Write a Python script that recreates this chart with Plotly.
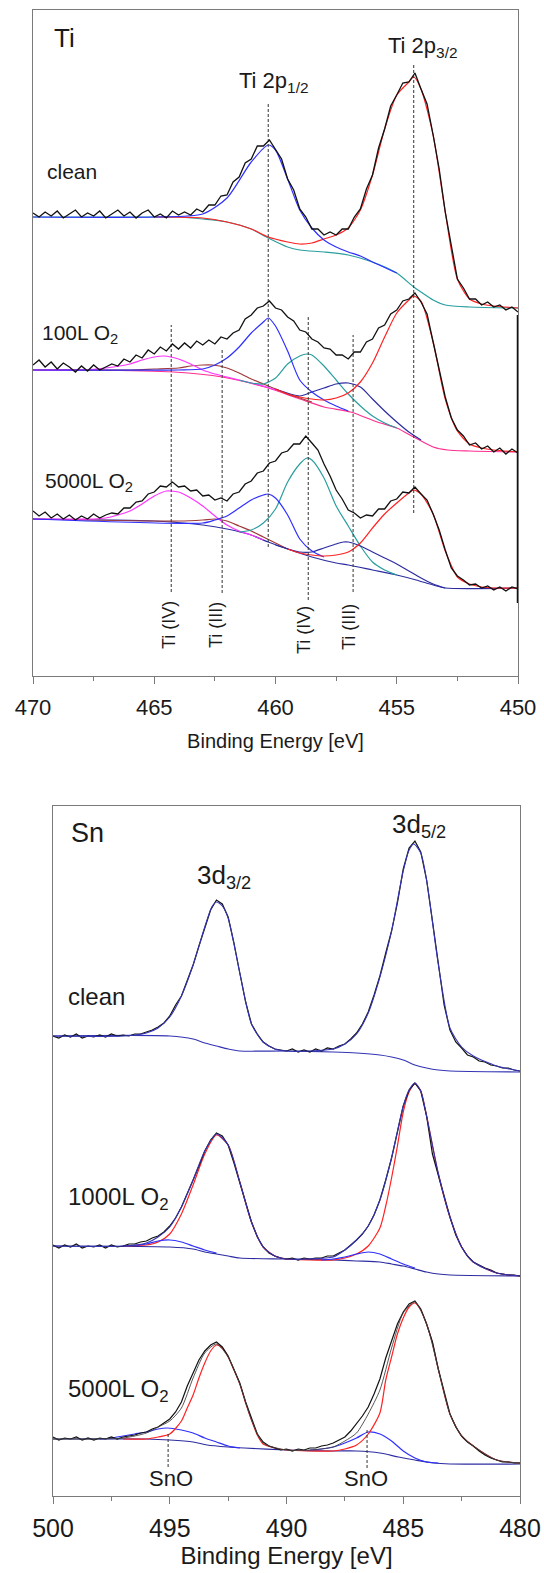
import plotly.graph_objects as go

FONT = "Liberation Sans, Arial, sans-serif"
TXT = "#1a1a1a"
AXC = "#7a7a7a"

# ---------------- Ti 2p panel (measured spectra, arbitrary intensity units) ----------------
E_TI = [round(470 - 0.25 * i, 2) for i in range(81)]

TI_CLEAN = [463, 459, 464, 460, 465, 458, 462, 466, 459, 463,
            460, 465, 458, 462, 466, 460, 464, 458, 463, 466,
            459, 462, 458, 465, 461, 464, 461, 467, 464, 471,
            471, 480, 481, 494, 499, 513, 517, 530, 530, 536,
            526, 517, 497, 486, 467, 459, 447, 447, 441, 444,
            441, 447, 447, 459, 467, 487, 501, 528, 547, 570,
            581, 593, 594, 603, 587, 572, 541, 507, 464, 430,
            397, 388, 377, 377, 371, 374, 369, 371, 366, 369, 364]

TI_100L = [311, 316, 309, 314, 307, 313, 309, 304, 310, 305,
           311, 306, 309, 312, 310, 317, 314, 321, 318, 326,
           322, 329, 325, 332, 327, 333, 328, 335, 331, 336,
           332, 339, 337, 343, 346, 357, 361, 368, 370, 375,
           368, 366, 359, 355, 346, 344, 337, 334, 328, 327,
           321, 321, 317, 324, 324, 334, 337, 348, 351, 362,
           366, 375, 377, 383, 374, 362, 334, 306, 279, 258,
           246, 240, 231, 233, 227, 230, 224, 228, 222, 227, 223]

TI_5000L = [165, 160, 164, 158, 162, 157, 161, 156, 160, 157,
            162, 158, 161, 163, 162, 168, 168, 174, 175, 182,
            184, 190, 189, 194, 189, 190, 185, 186, 180, 181,
            176, 178, 175, 182, 184, 192, 195, 203, 205, 213,
            215, 223, 225, 232, 232, 240, 233, 226, 212, 200,
            186, 177, 166, 163, 158, 161, 160, 167, 167, 175,
            177, 184, 183, 189, 182, 176, 162, 146, 126, 108,
            100, 96, 91, 92, 88, 90, 86, 89, 85, 89, 87]

# fitted components, clean
TI_C_BG_E = [470, 465, 464, 463, 462, 461, 460.3, 459.5, 459, 458, 457, 456, 455, 454.3, 454, 453.5, 453, 452, 450]
TI_C_BG = [459, 459, 459, 457, 454, 447, 438, 429, 426, 424, 421, 414, 403, 389, 384, 376, 371, 369, 368]
TI_C_RED_E = [465, 463, 462, 461, 460.3, 459.5, 459, 458.5, 458, 457.5, 457, 456.5, 456, 455.5, 455, 454.5, 454.3, 454, 453.5, 453, 452.5, 452, 451.5, 451, 450]
TI_C_RED = [459, 458, 454, 447, 439, 434, 432, 433, 437, 441, 448, 466, 501, 547, 581, 594, 599, 587, 541, 464, 397, 377, 372, 370, 368]
TI_C_BLUE_E = [470, 465, 463, 462, 461, 460.3, 460, 459.5, 459, 458.5, 458, 457.5, 457, 456.5, 456, 455]
TI_C_BLUE = [459, 459, 462, 478, 514, 531, 526, 497, 466, 448, 436, 429, 424, 420, 414, 403]

# fitted components, 100 L O2
TI_1_BG_E = [470, 467.6, 464.2, 462.2, 460.3, 459.1, 458, 456.9, 455.8, 455, 454.3, 453.5, 452.9, 452, 450]
TI_1_BG = [306, 306, 304, 299, 288, 278, 269, 264, 254, 248, 239, 229, 226, 225, 224]
TI_1_MAG_E = [470, 468, 467, 466, 465.5, 465, 464.6, 464, 463.5, 463, 462.5, 462, 461.5, 461, 460.5, 460]
TI_1_MAG = [306, 306, 308, 312, 316, 319, 320, 317, 312, 306, 302, 299, 296, 293, 290, 286]
TI_1_BRN_E = [470, 466, 465, 464, 463.5, 463, 462.6, 462, 461.5, 461, 460.5, 460, 459.5, 459, 458.5]
TI_1_BRN = [306, 306, 307, 308, 310, 311, 311, 308, 303, 297, 292, 287, 282, 278, 274]
TI_1_BLUE_E = [470, 464, 463, 462.5, 462, 461.5, 461, 460.5, 460.3, 460, 459.5, 459, 458.5, 458, 457.5, 457]
TI_1_BLUE = [306, 306, 307, 311, 318, 329, 343, 354, 358, 350, 325, 296, 284, 276, 270, 265]
TI_1_TEAL_E = [461.5, 461, 460.5, 460, 459.5, 459, 458.7, 458.5, 458, 457.5, 457, 456.5, 456, 455.5, 455]
TI_1_TEAL = [296, 293, 292, 298, 312, 320, 322, 321, 310, 296, 282, 270, 260, 253, 248]
TI_1_NAVY_E = [460, 459, 458.5, 458, 457.5, 457, 456.5, 456, 455.5, 455, 454.5, 454]
TI_1_NAVY = [287, 280, 284, 288, 292, 293, 289, 277, 265, 254, 244, 236]
TI_1_RED_E = [460, 459.5, 459, 458.5, 458, 457.5, 457, 456.5, 456, 455.5, 455, 454.5, 454.3, 454, 453.5, 453, 452.5, 452, 451.5, 451, 450]
TI_1_RED = [287, 282, 279, 277, 276, 278, 283, 294, 313, 339, 363, 376, 380, 375, 334, 277, 245, 232, 228, 226, 224]

# fitted components, 5000 L O2
TI_5_BG_E = [470, 467, 465, 463, 462, 461, 460.3, 459.5, 458.5, 457.5, 457, 456, 455, 454.2, 453.5, 453, 450]
TI_5_BG = [157, 156, 155, 151, 147, 141, 134, 127, 119, 113, 111, 106, 101, 96, 91, 88, 88]
TI_5_MAG_E = [470, 467.5, 467, 466.5, 466, 465.5, 465, 464.5, 464.3, 464, 463.5, 463, 462.5, 462, 461.5, 461, 460.5]
TI_5_MAG = [157, 157, 158, 161, 165, 172, 180, 185, 185, 184, 178, 170, 160, 151, 145, 141, 136]
TI_5_BRN_E = [470, 464, 463, 462.5, 462, 461.5, 461, 460.5, 460, 459.5]
TI_5_BRN = [157, 155, 156, 157, 155, 150, 145, 139, 133, 127]
TI_5_BLUE_E = [470, 463, 462.5, 462, 461.5, 461, 460.5, 460.3, 460, 459.5, 459, 458.5, 458]
TI_5_BLUE = [157, 153, 156, 160, 168, 176, 181, 182, 178, 161, 137, 125, 119]
TI_5_TEAL_E = [461.5, 461, 460.5, 460, 459.5, 459, 458.7, 458.5, 458, 457.5, 457, 456.5, 456, 455.5, 455]
TI_5_TEAL = [144, 146, 153, 167, 194, 212, 218, 216, 198, 170, 150, 130, 114, 106, 101]
TI_5_NAVY_E = [460, 459, 458.5, 458, 457.5, 457.2, 457, 456.5, 456, 455.5, 455, 454.5, 454, 453.5, 453]
TI_5_NAVY = [131, 124, 124, 128, 132, 134, 134, 130, 124, 118, 112, 105, 98, 92, 88]
TI_5_RED_E = [459.5, 459, 458.5, 458, 457.5, 457, 456.5, 456, 455.5, 455, 454.5, 454.3, 454, 453.5, 453, 452.5, 452, 451.5, 451, 450]
TI_5_RED = [127, 123, 121, 120, 121, 124, 133, 148, 162, 173, 183, 186, 182, 162, 125, 99, 92, 89, 88, 88]

# peak-position guide lines (energy, lower and upper intensity)
TI_MARK_E = [464.3, 462.2, 460.3, 458.65, 456.8, 454.3]
TI_MARK_LO = [84, 83, 129, 76, 84, 163]
TI_MARK_HI = [351, 326, 573, 361, 341, 611]

# ---------------- Sn 3d panel ----------------
E_SN = [round(500 - 0.25 * i, 2) for i in range(81)]

SN_CLEAN = [460, 458, 461, 459, 462, 458, 460, 459, 461, 459,
            462, 460, 461, 460, 462, 462, 464, 466, 469, 473,
            480, 491, 500, 515, 531, 550, 569, 586, 596, 592,
            579, 553, 523, 494, 472, 462, 454, 450, 447, 446,
            445, 447, 444, 446, 444, 447, 445, 448, 447, 450,
            452, 457, 463, 472, 484, 501, 520, 543, 565, 593,
            627, 648, 655, 644, 616, 575, 531, 491, 466, 454,
            448, 441, 439, 435, 434, 431, 430, 428, 428, 426, 425]

SN_1000L = [251, 248, 251, 249, 252, 248, 250, 249, 251, 248,
            251, 249, 250, 252, 252, 254, 255, 258, 260, 264,
            270, 278, 289, 302, 316, 330, 345, 356, 363, 360,
            351, 333, 314, 293, 274, 259, 249, 243, 240, 238,
            237, 238, 236, 238, 237, 238, 238, 240, 240, 243,
            246, 251, 256, 262, 270, 281, 296, 316, 338, 364,
            390, 406, 413, 405, 380, 342, 322, 300, 279, 261,
            249, 240, 234, 231, 228, 226, 223, 222, 221, 221, 220]

SN_5000L = [59, 56, 58, 57, 59, 56, 58, 56, 58, 57,
            59, 57, 59, 60, 61, 63, 64, 67, 69, 73,
            77, 84, 94, 110, 123, 136, 145, 151, 154, 149,
            140, 127, 113, 94, 77, 62, 54, 50, 48, 46,
            47, 45, 47, 46, 48, 48, 50, 51, 53, 56,
            59, 65, 72, 80, 89, 102, 117, 138, 155, 172,
            184, 192, 195, 187, 172, 154, 127, 104, 82, 69,
            60, 54, 50, 45, 41, 38, 36, 34, 34, 33, 33]

SN_C_FIT_E = [500, 497, 496, 495.5, 495, 494.5, 494, 493.5, 493.2, 493, 492.75, 492.5, 492, 491.5, 491, 490.5, 490, 489, 488, 487.5, 487, 486.5, 486, 485.5, 485, 484.75, 484.55, 484.25, 484, 483.5, 483, 482.5, 482, 481, 480]
SN_C_FIT = [460, 460, 463, 468, 479, 500, 531, 569, 589, 594, 590, 578, 523, 472, 454, 447, 445, 445, 447, 452, 462, 483, 519, 565, 625, 646, 652, 643, 616, 532, 468, 449, 440, 430, 425]
SN_C_BG_E = [500, 495, 494, 493.5, 493, 492.5, 492, 490, 488, 487, 486, 485.5, 485, 484.5, 484, 483.5, 483, 480]
SN_C_BG = [460, 460, 457, 453, 450, 447, 445, 445, 444, 443, 441, 439, 436, 431, 428, 426, 425, 424]

SN_1_BG_E = [500, 495, 494, 493.5, 493, 492.5, 492, 490, 488, 487, 486, 485.5, 485, 484.5, 484, 483.5, 483, 480]
SN_1_BG = [250, 249, 247, 244, 242, 240, 238, 237, 236, 235, 234, 232, 230, 227, 224, 222, 221, 220]
SN_1_OXL_E = [497, 496, 495.5, 495, 494.5, 494, 493.5, 493]
SN_1_OXL = [250, 252, 255, 256, 254, 250, 246, 243]
SN_1_OXR_E = [488.5, 488, 487.5, 487, 486.5, 486, 485.5, 485, 484.5]
SN_1_OXR = [236, 237, 239, 242, 244, 242, 237, 232, 228]
SN_1_RED_E = [497, 496, 495.5, 495, 494.5, 494, 493.5, 493, 492.5, 492, 491.5, 491, 490.5, 490, 489, 488, 487.5, 487, 486.5, 486, 485.75, 485.5, 485.25, 485, 484.75, 484.5, 484.25, 484, 483.5, 483, 482.5, 482, 481, 480]
SN_1_RED = [250, 251, 254, 262, 282, 311, 342, 361, 351, 314, 274, 249, 240, 237, 236, 236, 238, 242, 250, 268, 290, 318, 350, 384, 404, 412, 405, 380, 322, 279, 249, 234, 223, 220]
SN_1_FIT_E = [500, 497, 496, 495.5, 495, 494.5, 494, 493.5, 493, 492.5, 492, 491.5, 491, 490.5, 490, 489, 488, 487.5, 487, 486.5, 486, 485.5, 485, 484.75, 484.5, 484.25, 484, 483.5, 483, 482.5, 482, 481, 480]
SN_1_FIT = [250, 250, 253, 259, 269, 289, 316, 345, 362, 351, 314, 274, 249, 240, 237, 237, 239, 246, 256, 270, 296, 338, 390, 406, 413, 405, 380, 323, 279, 249, 234, 223, 220]

SN_5_BG_E = [500, 496, 495, 494, 493.4, 492.5, 491.8, 490, 488, 487, 486, 485.2, 484.5, 483.7, 483, 480]
SN_5_BG = [57, 57, 56, 54, 51, 49, 48, 46, 45, 45, 43, 39, 36, 33, 32, 32]
SN_5_OXL_E = [498, 497.5, 497, 496.5, 496, 495.5, 495.1, 494.5, 494, 493.5, 493, 492.5, 492]
SN_5_OXL = [57, 58, 60, 62, 64, 67, 68, 66, 63, 58, 54, 50, 48]
SN_5_OXR_E = [489, 488.5, 488, 487.5, 487, 486.5, 486, 485.5, 485, 484.5, 484, 483.5]
SN_5_OXR = [46, 47, 49, 53, 58, 64, 62, 55, 45, 38, 34, 33]
SN_5_RED_E = [497, 496, 495.5, 495, 494.5, 494.25, 494, 493.75, 493.5, 493.25, 493, 492.75, 492.5, 492.25, 492, 491.75, 491.5, 491.25, 491, 490.5, 490, 489, 488, 487.5, 487, 486.5, 486, 485.75, 485.5, 485.25, 485, 484.75, 484.5, 484.25, 484, 483.75, 483.5, 483, 482.5, 482, 481, 480]
SN_5_RED = [57, 57, 59, 62, 75, 88, 101, 118, 133, 145, 151, 148, 139, 126, 112, 93, 76, 61, 52, 48, 46, 45, 45, 47, 51, 62, 83, 116, 139, 162, 178, 189, 193, 186, 172, 153, 127, 82, 60, 50, 36, 33]
SN_5_FIT_E = [500, 497, 496, 495.5, 495, 494.5, 494, 493.5, 493, 492.5, 492, 491.5, 491, 490, 489, 488, 487.5, 487, 486.5, 486, 485.5, 485, 484.5, 484, 483.5, 483, 482.5, 482, 481, 480]
SN_5_FIT = [57, 58, 63, 69, 75, 88, 118, 143, 152, 139, 112, 76, 53, 46, 46, 49, 55, 63, 82, 106, 148, 183, 194, 172, 127, 82, 60, 50, 36, 33]

SN_MARK_E = [495.07, 486.55]
SN_MARK_LO = [29, 28]
SN_MARK_HI = [63, 66]

# ---------------- colours ----------------
BLACK = "#111111"
TEAL = "#2a9e9e"
RED = "#ff2222"
BLUE = "#2f2fff"
MAGENTA = "#ff33ff"
BROWN = "#a03a3a"
NAVY = "#2c2ca0"
PINK = "#ff2f8f"
SNBLUE = "#3434b4"

fig = go.Figure()


def add(x, y, color, width=1.2, xa="x", ya="y", spline=True, dash=None):
    ln = dict(color=color, width=width)
    if spline:
        ln["shape"] = "spline"
        ln["smoothing"] = 0.7
    if dash:
        ln["dash"] = dash
    fig.add_trace(go.Scatter(x=x, y=y, mode="lines", xaxis=xa, yaxis=ya, line=ln,
                             hoverinfo="skip", showlegend=False))


# Ti components
add(TI_C_BG_E, TI_C_BG, TEAL)
add(TI_C_RED_E, TI_C_RED, RED)
add(TI_C_BLUE_E, TI_C_BLUE, BLUE)

add(TI_1_BG_E, TI_1_BG, PINK)
add(TI_1_BRN_E, TI_1_BRN, BROWN)
add(TI_1_MAG_E, TI_1_MAG, MAGENTA)
add(TI_1_TEAL_E, TI_1_TEAL, TEAL)
add(TI_1_NAVY_E, TI_1_NAVY, NAVY)
add(TI_1_BLUE_E, TI_1_BLUE, BLUE)
add(TI_1_RED_E, TI_1_RED, RED)

add(TI_5_BG_E, TI_5_BG, NAVY)
add(TI_5_BRN_E, TI_5_BRN, BROWN)
add(TI_5_MAG_E, TI_5_MAG, MAGENTA)
add(TI_5_TEAL_E, TI_5_TEAL, TEAL)
add(TI_5_NAVY_E, TI_5_NAVY, NAVY)
add(TI_5_BLUE_E, TI_5_BLUE, BLUE)
add(TI_5_RED_E, TI_5_RED, RED)

for e, lo, hi in zip(TI_MARK_E, TI_MARK_LO, TI_MARK_HI):
    add([e, e], [lo, hi], "#333333", width=1, spline=False, dash="3px,2px")

for spec in (TI_CLEAN, TI_100L, TI_5000L):
    add(E_TI, spec, BLACK, width=1.3, spline=False)

# the spectra end on a common vertical stroke at 450 eV
add([E_TI[-1], E_TI[-1]], [TI_CLEAN[-3] - 5, TI_5000L[-1] - 14], BLACK, width=2.5, spline=False)

# Sn components
add(SN_C_BG_E, SN_C_BG, SNBLUE, xa="x2", ya="y2")
add(SN_1_BG_E, SN_1_BG, NAVY, xa="x2", ya="y2")
add(SN_1_RED_E, SN_1_RED, RED, xa="x2", ya="y2")
add(SN_1_OXL_E, SN_1_OXL, BLUE, xa="x2", ya="y2")
add(SN_1_OXR_E, SN_1_OXR, BLUE, xa="x2", ya="y2")
add(SN_5_BG_E, SN_5_BG, NAVY, xa="x2", ya="y2")
add(SN_5_OXL_E, SN_5_OXL, BLUE, xa="x2", ya="y2")
add(SN_5_OXR_E, SN_5_OXR, BLUE, xa="x2", ya="y2")
add(SN_5_RED_E, SN_5_RED, RED, xa="x2", ya="y2")

for e, lo, hi in zip(SN_MARK_E, SN_MARK_LO, SN_MARK_HI):
    add([e, e], [lo, hi], "#333333", width=1, xa="x2", ya="y2", spline=False, dash="3px,2px")

for spec in (SN_CLEAN, SN_1000L, SN_5000L):
    add(E_SN, spec, BLACK, width=1.2, xa="x2", ya="y2", spline=False)

add(SN_C_FIT_E, SN_C_FIT, SNBLUE, xa="x2", ya="y2", width=1.1)
add(SN_1_FIT_E, SN_1_FIT, SNBLUE, xa="x2", ya="y2", width=1.1)
add(SN_5_FIT_E, SN_5_FIT, "#444444", xa="x2", ya="y2", width=0.9)

# ---------------- annotations ----------------
ann = []


def label(text, x, y, size, xa="x", ya="y", xanchor="left", angle=0):
    ann.append(dict(text=text, x=x, y=y, xref=xa, yref=ya, showarrow=False,
                    xanchor=xanchor, yanchor="middle", textangle=angle,
                    font=dict(family=FONT, size=size, color=TXT)))


label("Ti", 469.2, 638, 26)
label("Ti 2p<sub>1/2</sub>", 460.08, 594, 22, xanchor="center")
label("Ti 2p<sub>3/2</sub>", 453.93, 629, 22, xanchor="center")
label("clean", 469.5, 505, 21)
label("100L O<sub>2</sub>", 469.7, 342, 21)
label("5000L O<sub>2</sub>", 469.6, 194, 21)
label("Ti (IV)", 464.39, 51, 18, xanchor="center", angle=-90)
label("Ti (III)", 462.45, 51, 18, xanchor="center", angle=-90)
label("Ti (IV)", 458.82, 46, 18, xanchor="center", angle=-90)
label("Ti (III)", 456.97, 49, 18, xanchor="center", angle=-90)

label("Sn", 499.32, 663, 27, xa="x2", ya="y2")
label("3d<sub>3/2</sub>", 492.68, 619, 26, xa="x2", ya="y2", xanchor="center")
label("3d<sub>5/2</sub>", 484.32, 670, 26, xa="x2", ya="y2", xanchor="center")
label("clean", 499.45, 499, 24, xa="x2", ya="y2")
label("1000L O<sub>2</sub>", 499.45, 298, 24, xa="x2", ya="y2")
label("5000L O<sub>2</sub>", 499.45, 106, 24, xa="x2", ya="y2")
label("SnO", 494.95, 18, 22, xa="x2", ya="y2", xanchor="center")
label("SnO", 486.6, 18, 22, xa="x2", ya="y2", xanchor="center")

H = 1573.0
W = 544.0


def xax(dom, rng, tsize, title_size, standoff, lblstand):
    return dict(domain=dom, range=rng, showgrid=False, zeroline=False, showline=True,
                linecolor=AXC, linewidth=1, mirror=True, ticks="outside", ticklen=7,
                tickcolor=AXC, tickwidth=1, dtick=5, tick0=0,
                minor=dict(dtick=2.5, tick0=0, ticks="outside", ticklen=4, tickcolor=AXC),
                tickfont=dict(family=FONT, size=tsize, color=TXT),
                ticklabelstandoff=lblstand,
                title=dict(text="Binding Energy [eV]", standoff=standoff,
                           font=dict(family=FONT, size=title_size, color=TXT)))


def yax(dom, rng):
    return dict(domain=dom, range=rng, showgrid=False, zeroline=False, showline=True,
                linecolor=AXC, linewidth=1, mirror=True, ticks="", showticklabels=False)


fig.update_layout(
    width=544, height=1573,
    margin=dict(l=0, r=0, t=0, b=0, autoexpand=False),
    paper_bgcolor="white", plot_bgcolor="white",
    showlegend=False,
    xaxis=dict(anchor="y", **xax([33 / W, 518 / W], [470, 450], 22, 20, 14, 5)),
    yaxis=dict(anchor="x", **yax([1 - 676 / H, 1 - 10 / H], [0, 666])),
    xaxis2=dict(anchor="y2", **xax([53 / W, 520 / W], [500, 480], 25, 24, 6, 3)),
    yaxis2=dict(anchor="x2", **yax([1 - 1496 / H, 1 - 806 / H], [0, 690])),
    annotations=ann,
)

fig.write_html("out.html")
